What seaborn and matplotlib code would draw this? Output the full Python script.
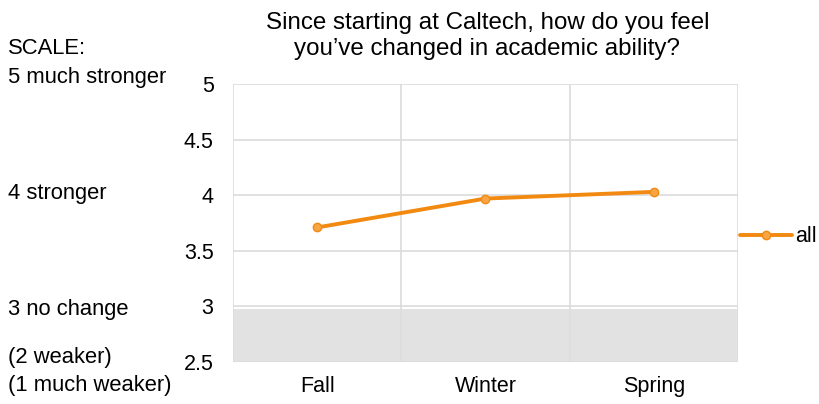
import matplotlib
matplotlib.use("Agg")
import matplotlib.pyplot as plt
import seaborn as sns
import pandas as pd

terms = ["Fall", "Winter", "Spring"]
scores = [3.71, 3.97, 4.03]
y_ticks = [2.5, 3, 3.5, 4, 4.5, 5]
y_tick_labels = ["2.5", "3", "3.5", "4", "4.5", "5"]
scale_labels = ["SCALE:", "5 much stronger", "4 stronger", "3 no change", "(2 weaker)", "(1 much weaker)"]

sns.set_style("white")
plt.rcParams["font.family"] = ["Liberation Sans", "DejaVu Sans"]
plt.rcParams["text.color"] = "black"
plt.rcParams["xtick.color"] = "black"
plt.rcParams["ytick.color"] = "black"

df = pd.DataFrame({"term": terms, "score": scores})

fig = plt.figure(figsize=(8.19, 4.04), dpi=100)
ax = fig.add_axes([0.2845, 0.104, 0.6165, 0.688])

orange = "#F28A12"
sns.lineplot(data=df, x="term", y="score", ax=ax, color=orange, linewidth=2.8,
             marker="o", markersize=6, markerfacecolor="#F7A545",
             markeredgecolor=orange, markeredgewidth=1, label="all")

# gray band below "no change"
ax.axhspan(2.5, 2.98, color="#E2E2E2", zorder=0, lw=0)

ax.set_xlim(-0.5, 2.5)
ax.set_ylim(2.5, 5)
ax.set_yticks(y_ticks)
ax.set_yticklabels(y_tick_labels)
for v in y_ticks:
    ax.axhline(v, color="#DCDCDC", lw=1.2, zorder=0.5)
for v in [-0.5, 0.5, 1.5, 2.5]:
    ax.axvline(v, color="#DCDCDC", lw=1.2, zorder=0.5)
for s in ax.spines.values():
    s.set_visible(False)
ax.tick_params(axis="both", length=0, labelsize=15.5)
ax.tick_params(axis="y", pad=14)
ax.tick_params(axis="x", pad=10)
ax.set_xlabel("")
ax.set_ylabel("")

ax.legend(loc="center left", bbox_to_anchor=(1.004, 0.45), frameon=False,
          fontsize=15.5, handlelength=2.4, handletextpad=0.15,
          borderaxespad=0, borderpad=0)

fig.text(0.595, 0.97, "Since starting at Caltech, how do you feel\nyou\u2019ve changed in academic ability?",
         ha="center", va="top", fontsize=17.4, linespacing=1.2)

scale_y = [48, 78, 193, 309, 358, 385]
for lab, yy in zip(scale_labels, scale_y):
    fig.text(0.01, 1 - yy / 404, lab, ha="left", va="center", fontsize=15.8)

fig.savefig("out.png", dpi=100)
